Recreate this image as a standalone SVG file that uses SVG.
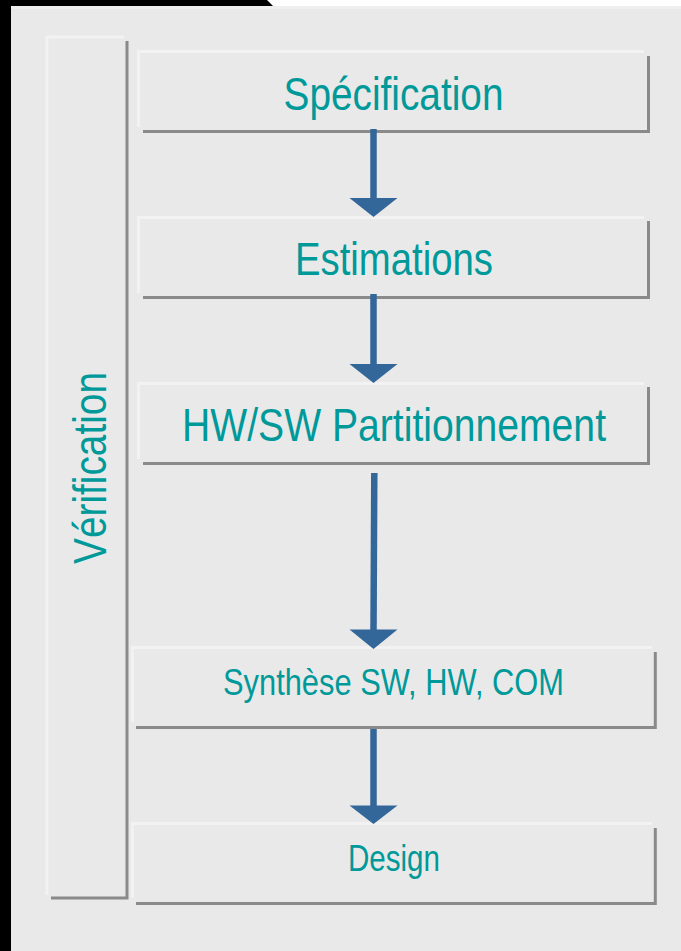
<svg xmlns="http://www.w3.org/2000/svg" width="681" height="951" viewBox="0 0 681 951">
  <style>
    .hi { fill: none; stroke: #f2f2f2; stroke-width: 3; }
    .lo { fill: none; stroke: #8a8a8a; stroke-width: 3; }
    .lbl { font-family: "Liberation Sans Narrow", "Liberation Sans", Arial, sans-serif; fill: #00999a; text-anchor: middle; }
    .big { font-size: 47px; }
    .small { font-size: 37px; }
    .shaft { stroke: #336699; stroke-width: 6.5; fill: none; }
    .head { fill: #336699; }
  </style>

  <!-- page backdrop and frame -->
  <rect x="0" y="0" width="681" height="951" fill="#ffffff"/>
  <polygon points="0,0 267,0 273,6 0,6" fill="#000000"/>
  <rect x="0" y="0" width="11" height="951" fill="#000000"/>
  <rect x="11" y="6" width="670" height="945" fill="#e9e9e9"/>
  <rect x="11" y="6" width="670" height="3" fill="#efefef"/>

  <!-- side bar -->
  <g id="verification">
    <path class="hi" d="M47,895 V37 H124"/>
    <path class="lo" d="M51,898 H127 V41"/>
    <text class="lbl big" transform="translate(106,468) rotate(-90)" textLength="192" lengthAdjust="spacingAndGlyphs">Vérification</text>
  </g>

  <g id="specification">
    <path class="hi" d="M138.5,127 V51.5 H644"/>
    <path class="lo" d="M143,131.5 H648.5 V56"/>
    <text class="lbl big" x="393.5" y="110" textLength="220" lengthAdjust="spacingAndGlyphs">Spécification</text>
  </g>

  <g id="estimations">
    <path class="hi" d="M138.5,293 V217.5 H644"/>
    <path class="lo" d="M143,297.5 H648.5 V221"/>
    <text class="lbl big" x="394" y="274.5" textLength="198" lengthAdjust="spacingAndGlyphs">Estimations</text>
  </g>

  <g id="partitionnement">
    <path class="hi" d="M138.5,459 V383.5 H644"/>
    <path class="lo" d="M143,463.5 H648.5 V387"/>
    <text class="lbl big" x="394" y="441" textLength="424" lengthAdjust="spacingAndGlyphs">HW/SW Partitionnement</text>
  </g>

  <g id="synthese">
    <path class="hi" d="M132.5,722 V647.5 H652"/>
    <path class="lo" d="M136,727.5 H655.3 V652"/>
    <text class="lbl small" x="393.5" y="695" textLength="341" lengthAdjust="spacingAndGlyphs">Synthèse SW, HW, COM</text>
  </g>

  <g id="design">
    <path class="hi" d="M132.5,898 V823.5 H652"/>
    <path class="lo" d="M136,903.5 H655.3 V828"/>
    <text class="lbl small" x="394" y="870.5" textLength="92" lengthAdjust="spacingAndGlyphs">Design</text>
  </g>

  <!-- flow arrows -->
  <g id="connectors">
    <line class="shaft" x1="373.5" y1="129" x2="373.5" y2="199"/>
    <polygon class="head" points="349.5,198 397.5,198 373.5,217"/>
    <line class="shaft" x1="373.5" y1="294" x2="373.5" y2="365"/>
    <polygon class="head" points="349.5,364 397.5,364 373.5,383"/>
    <line class="shaft" x1="374.3" y1="473" x2="373.5" y2="630"/>
    <polygon class="head" points="349.5,629.5 397.5,629.5 373.5,649"/>
    <line class="shaft" x1="373.5" y1="729" x2="373.5" y2="806"/>
    <polygon class="head" points="349.5,805.5 397.5,805.5 373.5,824"/>
  </g>
</svg>
